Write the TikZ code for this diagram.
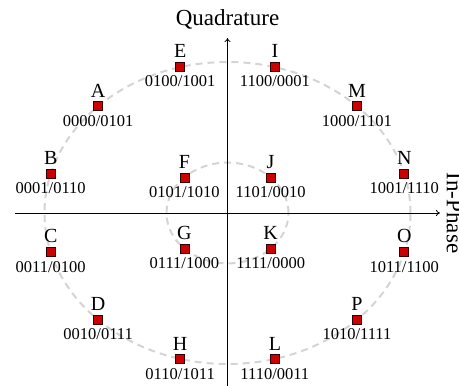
\documentclass[tikz,border=0pt]{standalone}
\usepackage{fontspec}
\setmainfont{Liberation Serif}
\usetikzlibrary{arrows.meta}
\definecolor{sqred}{RGB}{204,0,0}
\definecolor{sqedge}{RGB}{50,0,0}
\definecolor{ringgray}{RGB}{212,212,212}
\newcommand\cpt[4]{%
  \node[sym] (#1) at (#2:#3) {};
  \node[ltr] (#1l) at ([yshift=4pt]#1.north) {#1};
  \node[bits] (#1b) at ([yshift=-4pt]#1.south) {#4};}
\begin{document}
\begin{tikzpicture}[x=61pt,y=50.4pt,
  sym/.style={draw=sqedge, fill=sqred, minimum size=9pt, inner sep=0pt, line width=0.6pt},
  ltr/.style={font=\fontsize{20}{20}\selectfont, inner sep=0pt, anchor=south},
  bits/.style={font=\fontsize{16.5}{16.5}\selectfont, inner sep=0pt, anchor=north},
  ring/.style={draw=ringgray, line width=2pt, dash pattern=on 7pt off 5pt},
  axis/.style={line width=0.8pt, -{To[length=4pt,width=6pt]}},
  ttl/.style={font=\fontsize{23}{23}\selectfont, inner sep=0pt, anchor=base}]
\useasboundingbox (-227.5pt,-173pt) rectangle (231.5pt,213pt);
\draw[ring] (0,0) ellipse [x radius=183pt, y radius=151pt];
\draw[ring] (0,0) ellipse [x radius=61pt, y radius=50.4pt];
\coordinate (xl) at (-212.5pt,0pt);
\coordinate (xr) at (212.5pt,0pt);
\coordinate (yb) at (0pt,-173pt);
\coordinate (yt) at (0pt,175pt);
\draw[axis] (xl) -- (xr);
\draw[axis] (yb) -- (yt);
\node[ttl] (q) at (0pt,187pt) {Quadrature};
\node[ttl, rotate=-90] (ip) at (219.5pt,0pt) {In-Phase};
\cpt{A}{135}{3}{0000/0101}
\cpt{B}{165}{3}{0001/0110}
\cpt{C}{195}{3}{0011/0100}
\cpt{D}{225}{3}{0010/0111}
\cpt{E}{105}{3}{0100/1001}
\cpt{F}{135}{1}{0101/1010}
\cpt{G}{225}{1}{0111/1000}
\cpt{H}{255}{3}{0110/1011}
\cpt{I}{75}{3}{1100/0001}
\cpt{J}{45}{1}{1101/0010}
\cpt{K}{315}{1}{1111/0000}
\cpt{L}{285}{3}{1110/0011}
\cpt{M}{45}{3}{1000/1101}
\cpt{N}{15}{3}{1001/1110}
\cpt{O}{345}{3}{1011/1100}
\cpt{P}{315}{3}{1010/1111}
\end{tikzpicture}
\end{document}
